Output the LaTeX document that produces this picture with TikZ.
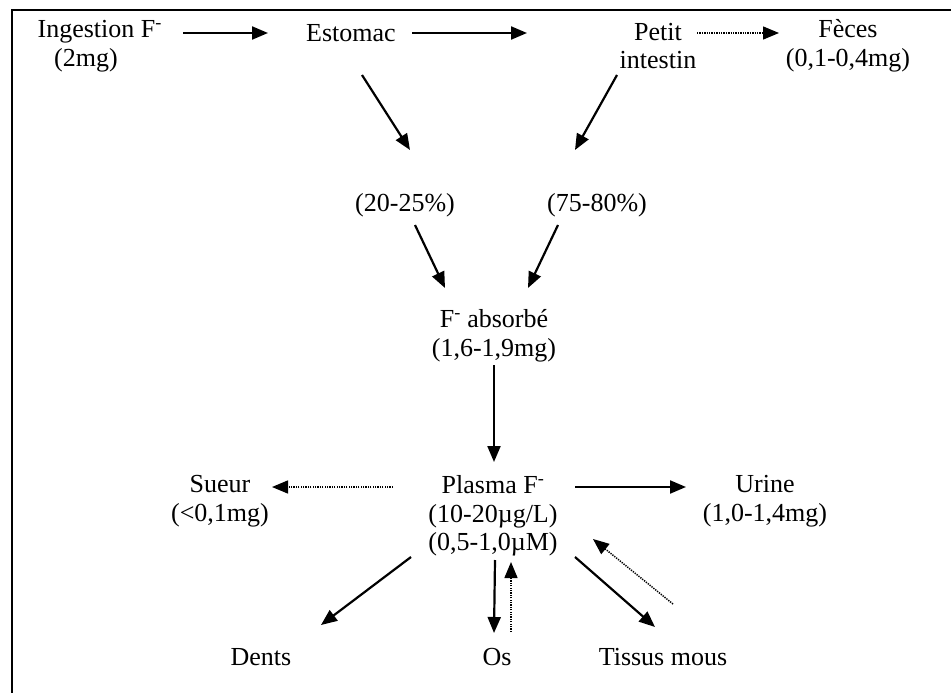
\documentclass[tikz,border=0pt]{standalone}
\usepackage{fontspec}
\setmainfont{Liberation Serif}
\usetikzlibrary{arrows.meta,calc}

\tikzset{
  lbl/.style={align=center, inner sep=0pt, font=\fontsize{26}{28.5}\selectfont},
  arr/.style={line width=2.2pt, -{Triangle[length=16pt,width=13pt]}},
  dotarr/.style={line width=1.5pt, dash pattern=on 1.3pt off 1.1pt,
                 -{Triangle[length=16pt,width=13pt]}},
  frame/.style={line width=2.8pt}
}

\begin{document}
\begin{tikzpicture}[x=1pt,y=-1pt]
\useasboundingbox (0,0) rectangle (951,693);

% open frame: top and left edges only
\draw[frame] (951,10) -- (12,10) -- (12,693);

% nodes
\node[lbl] (ing) at (86,46)  {Ingestion\rlap{ F\textsuperscript{-}}\\(2mg)};
\node[lbl] (est) at (351,33) {Estomac};
\node[lbl] (pet) at (658,46) {Petit\\intestin};
\node[lbl] (fec) at (848,46) {Fèces\\(0,1-0,4mg)};
\node[lbl] (p20) at (405,205) {(20-25\%)};
\node[lbl] (p75) at (597,205) {(75-80\%)};
\node[lbl] (abs) at (494,336) {F\textsuperscript{-} absorbé\\(1,6-1,9mg)};
\node[lbl] (pla) at (493,516) {Plasma F\textsuperscript{-}\\(10-20µg/L)\\(0,5-1,0µM)};
\node[lbl] (sue) at (220,501) {Sueur\\(<0,1mg)};
\node[lbl] (uri) at (765,501) {Urine\\(1,0-1,4mg)};
\node[lbl] (den) at (261,657) {Dents};
\node[lbl] (os)  at (497,657) {Os};
\node[lbl] (tis) at (663,657) {Tissus mous};

% digestive path
\draw[arr] ($(ing)+(97,-13)$) -- ($(est)+(-83,0)$);
\draw[arr] ($(est)+(61,0)$) -- ($(pet)+(-131,-13)$);
\draw[dotarr] ($(pet)+(39,-13)$) -- ($(fec)+(-69,-13)$);
\draw[arr] ($(est)+(11,42)$) -- ($(p20)+(5,-55)$);
\draw[arr] ($(pet)+(-41,29)$) -- ($(p75)+(-22,-55)$);
\draw[arr] ($(p20)+(10,20)$) -- ($(abs)+(-49,-48)$);
\draw[arr] ($(p75)+(-39,20)$) -- ($(abs)+(34,-48)$);
\draw[arr] ($(abs)+(0,29)$) -- ($(pla)+(1,-54)$);

% distribution from plasma
\draw[dotarr] ($(pla)+(-100,-29)$) -- ($(sue)+(52,-14)$);
\draw[arr] ($(pla)+(82,-29)$) -- ($(uri)+(-79,-14)$);
\draw[arr] ($(pla)+(-82,41)$) -- ($(den)+(60,-32)$);
\draw[arr] ($(pla)+(2,44)$) -- ($(os)+(-3,-24)$);
\draw[dotarr] ($(os)+(14,-25)$) -- ($(pla)+(18,46)$);
\draw[arr] ($(pla)+(82,41)$) -- ($(tis)+(-8,-30)$);
\draw[dotarr] ($(tis)+(10,-53)$) -- ($(pla)+(100,23)$);
\end{tikzpicture}
\end{document}
